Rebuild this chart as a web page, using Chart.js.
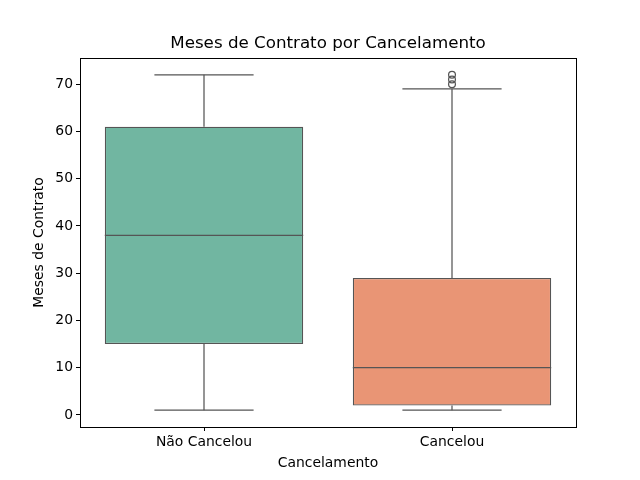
<!DOCTYPE html>
<html><head><meta charset="utf-8">
<script src="https://cdn.jsdelivr.net/npm/chart.js@4"></script>
<style>html,body{margin:0;padding:0;background:#fff}#wrap{width:640px;height:480px}</style>
</head><body><div id="wrap"><canvas id="c" width="640" height="480"></canvas></div>
<script>
const categories = ['Não Cancelou', 'Cancelou'];
const mins = [1, 1];
const q1s = [15, 2];
const medians = [38, 10];
const q3s = [61, 29];
const maxs = [72, 69];
const outliers = [[], [70, 71, 72]];
const yTicks = [0, 10, 20, 30, 40, 50, 60, 70];
const boxColors = ['#71b6a1', '#e99575'];
const lineColor = '#555555';

const font = 'DejaVu Sans';

const boxPlugin = {
  id: 'boxExtras',
  afterLayout(chart) {
    const t = chart.titleBlock;
    if (t) { t.left = chart.chartArea.left; t.right = chart.chartArea.right; }
  },
  afterDatasetsDraw(chart) {
    const ctx = chart.ctx;
    const y = chart.scales.y;
    const meta = chart.getDatasetMeta(0);
    ctx.save();
    ctx.strokeStyle = lineColor;
    ctx.lineWidth = 1.25;
    meta.data.forEach((bar, i) => {
      const cx = bar.x, w = bar.width, half = w / 2, cap = w / 4;
      const line = (x1, y1, x2, y2) => { ctx.beginPath(); ctx.moveTo(x1, y1); ctx.lineTo(x2, y2); ctx.stroke(); };
      line(cx, y.getPixelForValue(q1s[i]), cx, y.getPixelForValue(mins[i]));
      line(cx, y.getPixelForValue(q3s[i]), cx, y.getPixelForValue(maxs[i]));
      line(cx - cap, y.getPixelForValue(mins[i]), cx + cap, y.getPixelForValue(mins[i]));
      line(cx - cap, y.getPixelForValue(maxs[i]), cx + cap, y.getPixelForValue(maxs[i]));
      line(cx - half, y.getPixelForValue(medians[i]), cx + half, y.getPixelForValue(medians[i]));
    });
    const a = chart.chartArea;
    ctx.strokeStyle = '#000';
    ctx.lineWidth = 1;
    ctx.strokeRect(Math.round(a.left) + 0.5, Math.round(a.top) + 0.5, Math.round(a.right - a.left), Math.round(a.bottom - a.top));
    ctx.restore();
  }
};

const outlierPoints = [];
outliers.forEach((arr, i) => arr.forEach(v => outlierPoints.push({ x: categories[i], y: v })));

new Chart(document.getElementById('c'), {
  type: 'bar',
  data: {
    labels: categories,
    datasets: [
      {
        data: categories.map((c, i) => [q1s[i], q3s[i]]),
        backgroundColor: boxColors,
        borderColor: lineColor,
        borderWidth: 1.25,
        borderSkipped: false,
        barPercentage: 0.8,
        categoryPercentage: 1.0
      },
      {
        type: 'line',
        data: outlierPoints,
        showLine: false,
        pointStyle: 'circle',
        pointRadius: 3.4,
        pointBorderWidth: 1.25,
        pointBorderColor: lineColor,
        pointBackgroundColor: 'rgba(0,0,0,0)'
      }
    ]
  },
  plugins: [boxPlugin],
  options: {
    responsive: false,
    animation: false,
    layout: { padding: { left: 0, right: 64, top: 0, bottom: 0 } },
    plugins: {
      legend: { display: false },
      tooltip: { enabled: false },
      title: {
        display: true,
        text: 'Meses de Contrato por Cancelamento',
        color: '#000',
        font: { family: font, size: 16.7, weight: 'normal', lineHeight: 1.2 },
        padding: { top: 34, bottom: 4 }
      }
    },
    scales: {
      x: {
        offset: true,
        grid: { display: true, drawOnChartArea: false, offset: false, tickLength: 4, color: '#000', tickColor: '#000' },
        border: { display: true, color: '#000' },
        ticks: { color: '#000', font: { family: font, size: 13.9 }, padding: 3, maxRotation: 0 },
        title: { display: true, text: 'Cancelamento', color: '#000', font: { family: font, size: 13.9, lineHeight: 1.2 }, padding: { top: 0, bottom: 8 } },
        afterFit(s) { s.height = 53; }
      },
      y: {
        min: -2.55,
        max: 75.55,
        afterBuildTicks(s) { s.ticks = yTicks.map(v => ({ value: v })); },
        grid: { display: true, drawOnChartArea: false, tickLength: 4, color: '#000', tickColor: '#000' },
        border: { display: true, color: '#000' },
        ticks: { color: '#000', font: { family: font, size: 13.9 }, padding: 3 },
        title: { display: true, text: 'Meses de Contrato', color: '#000', font: { family: font, size: 13.9, lineHeight: 1.2 }, padding: { top: 31, bottom: 0 } },
        afterFit(s) { s.width = 80; }
      }
    }
  }
});
</script>
</body></html>
